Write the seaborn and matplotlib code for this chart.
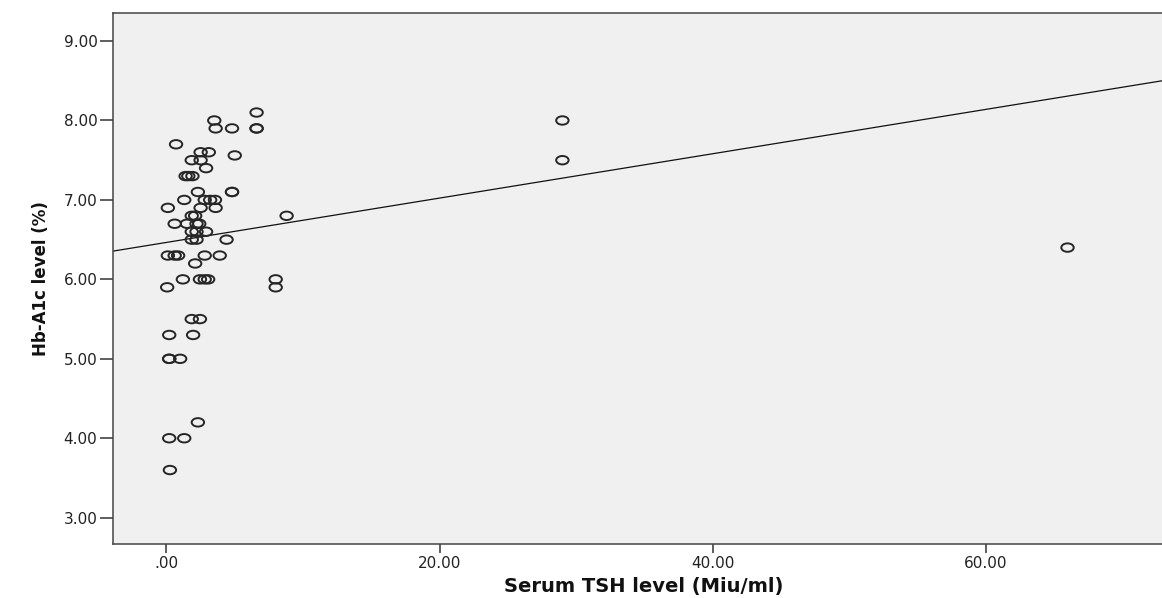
import numpy as np
import pandas as pd
import matplotlib
matplotlib.use("Agg")
import matplotlib.pyplot as plt
from matplotlib.path import Path
import seaborn as sns

# ---- data ----
tsh = [6.6, 3.5, 3.6, 4.8, 6.6, 6.6, 0.7, 2.5, 3.1, 5.0,
       1.85, 2.5, 2.9, 1.4, 1.6, 1.9, 2.3, 4.8, 4.8, 1.3,
       2.8, 3.2, 3.55, 0.1, 2.5, 3.6, 1.85, 2.1, 8.8, 0.6,
       1.5, 2.2, 2.4, 1.85, 2.2, 2.9, 1.85, 2.2, 4.4, 0.1,
       0.6, 0.85, 2.8, 3.9, 2.1, 1.2, 2.45, 2.8, 3.05, 0.05,
       8.0, 8.0, 1.85, 2.45, 0.2, 1.95, 0.2, 0.2, 1.0, 2.3,
       0.2, 1.3, 0.25, 29.0, 29.0, 66.0]
hba1c = [8.1, 8.0, 7.9, 7.9, 7.9, 7.9, 7.7, 7.6, 7.6, 7.56,
         7.5, 7.5, 7.4, 7.3, 7.3, 7.3, 7.1, 7.1, 7.1, 7.0,
         7.0, 7.0, 7.0, 6.9, 6.9, 6.9, 6.8, 6.8, 6.8, 6.7,
         6.7, 6.7, 6.7, 6.6, 6.6, 6.6, 6.5, 6.5, 6.5, 6.3,
         6.3, 6.3, 6.3, 6.3, 6.2, 6.0, 6.0, 6.0, 6.0, 5.9,
         6.0, 5.9, 5.5, 5.5, 5.3, 5.3, 5.0, 5.0, 5.0, 4.2,
         4.0, 4.0, 3.6, 8.0, 7.5, 6.4]

# fit line as printed in the reference (intercept, slope)
reg_intercept = 6.465
reg_slope = 0.0279

x_ticks = [0, 20, 40, 60]
x_tick_labels = [".00", "20.00", "40.00", "60.00"]
y_ticks = [3, 4, 5, 6, 7, 8, 9]
y_tick_labels = ["3.00", "4.00", "5.00", "6.00", "7.00", "8.00", "9.00"]
x_label = "Serum TSH level (Miu/ml)"
y_label = "Hb-A1c level (%)"

df = pd.DataFrame({"tsh": tsh, "hba1c": hba1c})

sns.set_style("white")
plt.rcParams["font.family"] = ["DejaVu Sans"]

W, H = 1162, 598
fig = plt.figure(figsize=(W / 100, H / 100), dpi=100)
left, right, top, bottom = 112.7, 1174, 13.3, 544
ax = fig.add_axes([left / W, (H - bottom) / H, (right - left) / W, (bottom - top) / H])
ax.set_facecolor("#f0f0f0")
ax.set_xlim(-3.94, 73.8)
ax.set_ylim(2.669, 9.349)

circ = Path.unit_circle()
ellipse = Path(circ.vertices * np.array([1.0, 0.68]), circ.codes)

ax.axline((0, reg_intercept), slope=reg_slope, color="#111111", lw=0.9, zorder=2)
sns.scatterplot(data=df, x="tsh", y="hba1c", marker=ellipse, s=80,
                facecolor="none", edgecolor="#262626", linewidth=1.4, ax=ax, zorder=3)

ax.set_xticks(x_ticks)
ax.set_xticklabels(x_tick_labels)
ax.set_yticks(y_ticks)
ax.set_yticklabels(y_tick_labels)
ax.tick_params(axis="y", direction="out", length=9.5, width=1.1, color="#333333",
               pad=1.5, labelsize=11, labelcolor="#222222", left=True)
ax.tick_params(axis="x", direction="out", length=6.3, width=1.1, color="#333333",
               pad=2.5, labelsize=11, labelcolor="#222222", bottom=True)
for s in ["left", "bottom", "top"]:
    ax.spines[s].set_color("#444444")
    ax.spines[s].set_linewidth(1.1)
ax.spines["right"].set_visible(False)

ax.set_xlabel(x_label, fontsize=14, fontweight="bold", labelpad=4, color="#111111")
ax.set_ylabel(y_label, fontsize=12, fontweight="bold", labelpad=10, color="#111111")

fig.savefig("out.png", dpi=100)
